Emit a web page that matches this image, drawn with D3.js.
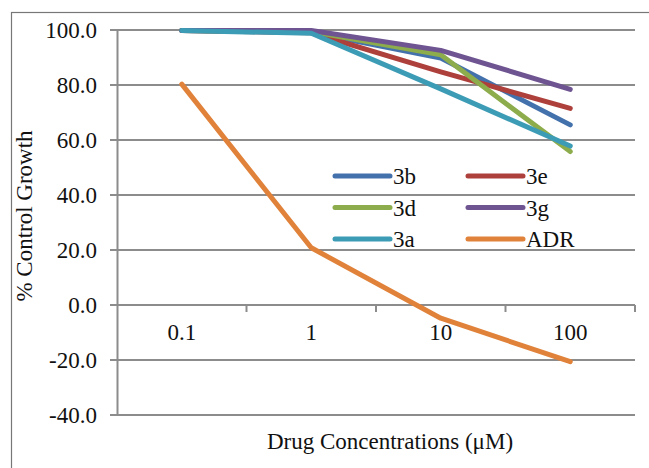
<!DOCTYPE html>
<html>
<head>
<meta charset="utf-8">
<script src="https://cdn.jsdelivr.net/npm/d3@7"></script>
<style>
  body { margin: 0; background: #fff; }
  svg { display: block; font-family: "Liberation Serif", "Times New Roman", serif; }
</style>
</head>
<body>
<svg id="chart" width="649" height="468"></svg>
<script>
// data
var concentrations = ["0.1", "1", "10", "100"];
var seriesNames = ["3b", "3e", "3d", "3g", "3a", "ADR"];
var s3b = [99.8, 99.2, 89.8, 65.5];
var s3e = [99.8, 99.0, 84.8, 71.5];
var s3d = [99.8, 99.4, 91.0, 55.8];
var s3g = [99.8, 99.8, 92.6, 78.4];
var s3a = [99.8, 98.8, 78.6, 57.8];
var sADR = [80.3, 20.8, -4.8, -20.6];
var yTicks = [-40, -20, 0, 20, 40, 60, 80, 100];

var colours = ["#4371AC", "#AE403C", "#8DAC4C", "#6F5492", "#3D9CB5", "#E1823A"];
var allSeries = [s3b, s3e, s3d, s3g, s3a, sADR];

var svg = d3.select("#chart");

// outer chart border (runs off the right / bottom edge like the reference)
svg.append("rect")
  .attr("x", 11.5).attr("y", 12.5)
  .attr("width", 700).attr("height", 500)
  .attr("fill", "none").attr("stroke", "#777").attr("stroke-width", 1.2);

var x = d3.scaleBand().domain(concentrations).range([117, 635]).padding(0);
var y = d3.scaleLinear().domain([-40, 100]).range([415, 30]);

// gridlines
svg.append("g").selectAll("line").data(yTicks).enter().append("line")
  .attr("x1", 110).attr("x2", 635)
  .attr("y1", function(d) { return y(d); })
  .attr("y2", function(d) { return y(d); })
  .attr("stroke", "#8c8c8c").attr("stroke-width", 2);

// y axis
var yAxis = d3.axisLeft(y).tickValues(yTicks).tickSize(0).tickPadding(20)
  .tickFormat(function(d) { return d.toFixed(1); });
var gy = svg.append("g").attr("transform", "translate(117,0)").call(yAxis);
gy.select(".domain").attr("stroke", "#8c8c8c").attr("stroke-width", 2);
gy.selectAll("text").attr("font-size", "23px").attr("fill", "#111")
  .attr("font-family", "Liberation Serif, Times New Roman, serif");

// x axis sits on the zero line
var xAxis = d3.axisBottom(x).tickSize(0).tickPadding(19);
var gx = svg.append("g").attr("transform", "translate(0," + y(0) + ")").call(xAxis);
gx.select(".domain").remove();
gx.selectAll("text").attr("font-size", "23px").attr("fill", "#111")
  .attr("font-family", "Liberation Serif, Times New Roman, serif");

// category boundary ticks
var bounds = concentrations.map(function(c) { return x(c) + x.bandwidth(); });
svg.append("g").selectAll("line").data(bounds).enter().append("line")
  .attr("x1", function(d) { return d; }).attr("x2", function(d) { return d; })
  .attr("y1", y(0)).attr("y2", y(0) + 7)
  .attr("stroke", "#8c8c8c").attr("stroke-width", 2);

// series lines
var line = d3.line()
  .x(function(d, i) { return x(concentrations[i]) + x.bandwidth() / 2; })
  .y(function(d) { return y(d); });

svg.append("g").selectAll("path").data(allSeries).enter().append("path")
  .attr("d", line)
  .attr("fill", "none")
  .attr("stroke", function(d, i) { return colours[i]; })
  .attr("stroke-width", 5)
  .attr("stroke-linecap", "round")
  .attr("stroke-linejoin", "round");

// legend (two columns, three rows)
var legendX = [335, 468];
var legendY = [176, 207.5, 239];
var leg = svg.append("g").selectAll("g").data(seriesNames).enter().append("g")
  .attr("transform", function(d, i) {
    return "translate(" + legendX[i % 2] + "," + legendY[Math.floor(i / 2)] + ")";
  });
leg.append("line")
  .attr("x1", 0).attr("x2", 55).attr("y1", 0).attr("y2", 0)
  .attr("stroke", function(d, i) { return colours[i]; })
  .attr("stroke-width", 5).attr("stroke-linecap", "round");
leg.append("text")
  .attr("x", 58).attr("y", 8)
  .attr("font-size", "23px").attr("fill", "#111")
  .text(function(d) { return d; });

// axis titles
svg.append("text")
  .attr("transform", "translate(32,216) rotate(-90)")
  .attr("text-anchor", "middle")
  .attr("font-size", "23px").attr("fill", "#111")
  .text("% Control Growth");

svg.append("text")
  .attr("x", 390).attr("y", 449)
  .attr("text-anchor", "middle")
  .attr("font-size", "23px").attr("fill", "#111")
  .text("Drug Concentrations (μM)");
</script>
</body>
</html>
